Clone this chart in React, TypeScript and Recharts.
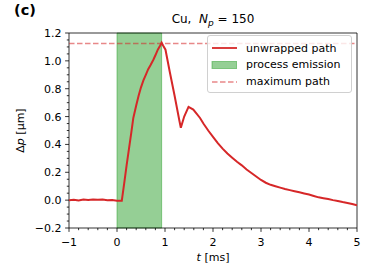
import React from 'react';
import { ComposedChart, Line, XAxis, YAxis, ReferenceArea, ReferenceLine } from 'recharts';

// measured path (t in ms, dp in µm)
const tValues = [
  -1.0, -0.9, -0.8, -0.7, -0.6, -0.5, -0.4, -0.3, -0.2, -0.1, 0.0, 0.05, 0.1,
  0.15, 0.2, 0.25, 0.3, 0.34, 0.4, 0.45, 0.5, 0.55, 0.6, 0.65, 0.7, 0.76, 0.8, 0.85, 0.9, 0.93,
  0.96, 1.01, 1.1, 1.2, 1.3, 1.33, 1.4, 1.49, 1.59, 1.73, 1.8, 1.9, 2.0, 2.1, 2.2, 2.3, 2.4,
  2.5, 2.6, 2.7, 2.8, 2.9, 3.0, 3.1, 3.2, 3.3, 3.4, 3.5, 3.6, 3.7, 3.8, 3.9, 4.0, 4.1, 4.2,
  4.3, 4.4, 4.5, 4.6, 4.7, 4.8, 4.9, 5.0,
];
const pathValues = [
  0.0, 0.003, -0.002, 0.004, 0.001, 0.005, 0.002, 0.004, -0.001, 0.001, -0.004, -0.004, -0.004,
  0.12, 0.25, 0.37, 0.49, 0.59, 0.68, 0.75, 0.81, 0.86, 0.9, 0.94, 0.97, 1.01, 1.04, 1.08, 1.11, 1.13,
  1.11, 1.08, 0.92, 0.75, 0.57, 0.52, 0.6, 0.67, 0.65, 0.59, 0.55, 0.5, 0.455, 0.41, 0.37, 0.335, 0.305,
  0.275, 0.25, 0.22, 0.195, 0.17, 0.145, 0.125, 0.11, 0.1, 0.09, 0.08, 0.072, 0.064, 0.056, 0.048, 0.04, 0.03, 0.02,
  0.014, 0.008, 0.0, -0.006, -0.014, -0.02, -0.028, -0.037,
];

const emissionStart = 0;
const emissionEnd = 0.93;
const maxPath = 1.125;

const xMajorTicks = [-1, 0, 1, 2, 3, 4, 5];
const xMinorTicks = [
  -0.8, -0.6, -0.4, -0.2, 0.2, 0.4, 0.6, 0.8, 1.2, 1.4, 1.6, 1.8, 2.2, 2.4, 2.6, 2.8,
  3.2, 3.4, 3.6, 3.8, 4.2, 4.4, 4.6, 4.8,
];
const yMajorTicks = [-0.2, 0.0, 0.2, 0.4, 0.6, 0.8, 1.0, 1.2];
const yMinorTicks = [
  -0.15, -0.1, -0.05, 0.05, 0.1, 0.15, 0.25, 0.3, 0.35, 0.45, 0.5, 0.55, 0.65, 0.7, 0.75,
  0.85, 0.9, 0.95, 1.05, 1.1, 1.15,
];

const data = tValues.map((t, i) => ({ t, dp: pathValues[i] }));

const FONT = '"DejaVu Sans", sans-serif';
const RED = '#d62728';
const GREEN = '#2ca02c';
const FS = 11;

const isMajor = (v: number, majors: number[]) => majors.some((m) => Math.abs(m - v) < 1e-6);
const fmt = (v: number, digits: number) => {
  const s = Math.abs(v).toFixed(digits);
  return v < -1e-9 ? '\u2212' + s : s;
};

const XTick = ({ x, y, payload }: any) => {
  const major = isMajor(payload.value, xMajorTicks);
  return (
    <g>
      <line x1={x} x2={x} y1={y} y2={y + (major ? 3.9 : 2.2)} stroke="#000" strokeWidth={0.8} />
      {major && (
        <text x={x} y={y + 17.5} textAnchor="middle" fontSize={FS} fontFamily={FONT} fill="#000">
          {fmt(payload.value, 0)}
        </text>
      )}
    </g>
  );
};

const YTick = ({ x, y, payload }: any) => {
  const major = isMajor(payload.value, yMajorTicks);
  return (
    <g>
      <line x1={x - (major ? 3.9 : 2.2)} x2={x} y1={y} y2={y} stroke="#000" strokeWidth={0.8} />
      {major && (
        <text x={x - 7.5} y={y + 4} textAnchor="end" fontSize={FS} fontFamily={FONT} fill="#000">
          {fmt(payload.value, 1)}
        </text>
      )}
    </g>
  );
};

const XLabel = (props: any) => {
  const { x, y, width } = props.viewBox;
  return (
    <text x={x + width / 2} y={y + 33} textAnchor="middle" fontSize={FS} fontFamily={FONT} fill="#000">
      <tspan fontStyle="italic">t</tspan> [ms]
    </text>
  );
};

const YLabel = (props: any) => {
  const { y, height } = props.viewBox;
  const cx = 24;
  const cy = y + height / 2;
  return (
    <text
      x={cx}
      y={cy}
      textAnchor="middle"
      fontSize={FS}
      fontFamily={FONT}
      fill="#000"
      transform={`rotate(-90 ${cx} ${cy})`}
    >
      {'\u0394'}
      <tspan fontStyle="italic">p</tspan> [{'\u00b5'}m]
    </text>
  );
};

function LegendBox() {
  const rows = [
    { label: 'unwrapped path', kind: 'line' },
    { label: 'process emission', kind: 'patch' },
    { label: 'maximum path', kind: 'dash' },
  ];
  return (
    <div
      style={{
        position: 'absolute',
        left: 207,
        top: 35,
        width: 145,
        height: 58,
        border: '1px solid #d0d0d0',
        borderRadius: 3,
        background: 'rgba(255,255,255,0.8)',
        boxSizing: 'border-box',
        fontFamily: FONT,
        fontSize: FS,
      }}
    >
      {rows.map((r, i) => (
        <div
          key={r.label}
          style={{ position: 'absolute', left: 3, top: 4 + i * 16.8, height: 16, display: 'flex', alignItems: 'center' }}
        >
          <svg width={26} height={12} style={{ marginRight: 9 }}>
            {r.kind === 'line' && <line x1={1} x2={26} y1={6} y2={6} stroke={RED} strokeWidth={1.8} />}
            {r.kind === 'patch' && (
              <rect x={1} y={2.5} width={25} height={7} fill={GREEN} fillOpacity={0.5} stroke={GREEN} strokeOpacity={0.5} />
            )}
            {r.kind === 'dash' && (
              <line x1={1} x2={26} y1={6} y2={6} stroke={RED} strokeOpacity={0.55} strokeWidth={1.5} strokeDasharray="5.5 2.5" />
            )}
          </svg>
          <span style={{ whiteSpace: 'nowrap' }}>{r.label}</span>
        </div>
      ))}
    </div>
  );
}

export default function App() {
  return (
    <div style={{ position: 'absolute', left: 0, top: 0, width: 374, height: 280, background: '#fff' }}>
      <ComposedChart width={374} height={280} data={data} margin={{ top: 33, right: 17, bottom: 0, left: 0 }}>
        <XAxis
          dataKey="t"
          type="number"
          domain={[-1, 5]}
          ticks={[...xMajorTicks, ...xMinorTicks].sort((a, b) => a - b)}
          interval={0}
          tick={<XTick />}
          tickLine={false}
          tickSize={0}
          tickMargin={0}
          axisLine={false}
          height={52}
          label={XLabel}
          allowDataOverflow
        />
        <YAxis
          type="number"
          domain={[-0.2, 1.2]}
          ticks={[...yMajorTicks, ...yMinorTicks].sort((a, b) => a - b)}
          interval={0}
          tick={<YTick />}
          tickLine={false}
          tickSize={0}
          tickMargin={0}
          axisLine={false}
          width={69}
          label={YLabel}
          allowDataOverflow
        />
        <ReferenceArea
          x1={emissionStart}
          x2={emissionEnd}
          y1={-0.2}
          y2={1.2}
          fill={GREEN}
          fillOpacity={0.5}
          stroke={GREEN}
          strokeOpacity={0.5}
        />
        <ReferenceLine y={maxPath} stroke={RED} strokeOpacity={0.55} strokeWidth={1.5} strokeDasharray="5.5 2.5" />
        <Line
          type="linear"
          dataKey="dp"
          stroke={RED}
          strokeWidth={2}
          dot={false}
          isAnimationActive={false}
        />
        <ReferenceArea x1={-1} x2={5} y1={-0.2} y2={1.2} fill="none" stroke="#000" strokeWidth={0.8} />
      </ComposedChart>
      <LegendBox />
      <div style={{ position: 'absolute', left: 14, top: 2, fontFamily: FONT, fontWeight: 'bold', fontSize: 14.5 }}>(c)</div>
      <div
        style={{
          position: 'absolute',
          left: 69,
          width: 288,
          top: 12,
          textAlign: 'center',
          fontFamily: FONT,
          fontSize: 12,
          whiteSpace: 'nowrap',
        }}
      >
        Cu,&nbsp; <i>N</i>
        <sub style={{ fontSize: 9, fontStyle: 'italic' }}>p</sub> = 150
      </div>
    </div>
  );
}
